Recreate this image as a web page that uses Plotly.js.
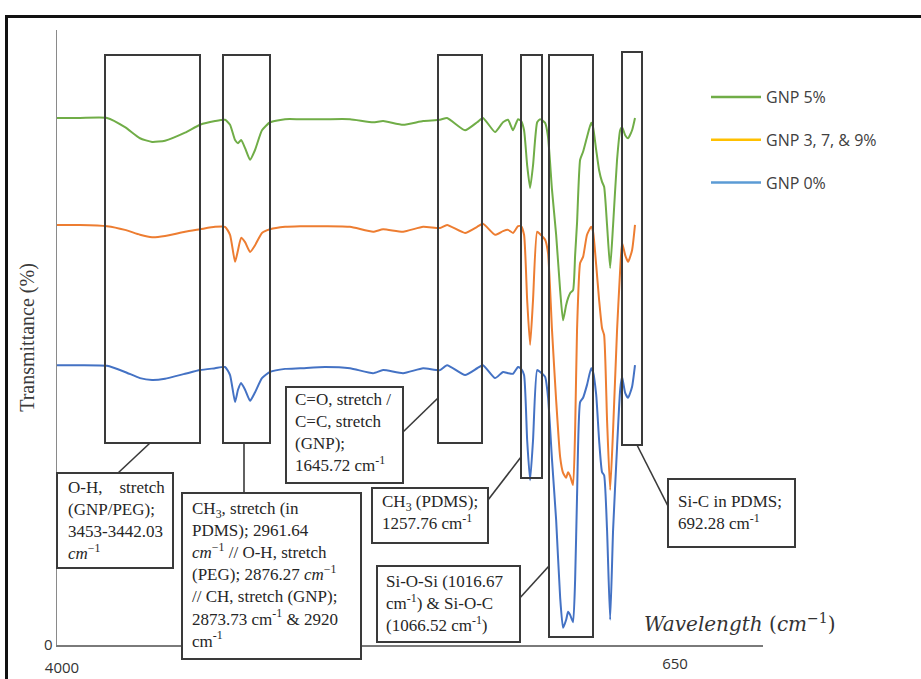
<!DOCTYPE html>
<html><head><meta charset="utf-8">
<script src="https://cdn.plot.ly/plotly-3.0.1.min.js"></script>
<style>
html,body{margin:0;padding:0;background:#fff;}
#wrap{position:relative;width:921px;height:679px;overflow:hidden;}
#chart{width:921px;height:679px;}
#frame{position:absolute;left:5px;top:15px;width:940px;height:700px;border-top:3px solid #111;border-left:3px solid #111;pointer-events:none;}
</style></head><body>
<div id="wrap"><div id="chart"></div><div id="frame"></div></div>
<script>
// ---- data (wavenumber in cm^-1, transmittance in %, curves offset as in the figure) ----
const wavenumber = [4000,3867,3710,3606,3519,3449,3374,3258,3171,3084,3026,2997,2968,2951,2933,2910,2881,2852,2812,2765,2678,2591,2446,2302,2168,2110,1994,1878,1780,1739,1635,1565,1531,1461,1415,1386,1357,1328,1310,1293,1275,1258,1241,1217,1200,1171,1154,1131,1107,1084,1067,1049,1038,1026,1009,997,986,968,951,928,904,893,875,858,841,829,812,794,777,754,736,725,707,690,667,650];
const gnp5 = [85.7,85.7,85.7,84.2,82.4,81.8,82.0,83.3,84.6,85.2,85.4,84.6,82.1,81.6,82.1,80.8,78.9,80.5,83.7,85.0,85.5,85.5,85.5,85.5,85.0,85.2,84.6,85.2,85.4,85.7,83.7,85.0,85.7,83.4,85.0,85.4,83.7,85.5,85.2,83.7,78.0,74.3,78.0,85.0,85.5,84.9,82.6,74.0,66.7,57.7,52.8,55.3,56.4,57.2,57.7,63.4,68.6,78.9,80.2,82.6,84.9,84.2,80.5,77.2,75.3,74.5,68.3,61.3,68.3,78.9,83.7,84.2,82.9,82.4,83.7,85.7];
const gnp379 = [68.3,68.3,68.1,67.5,66.7,66.3,66.5,67.2,67.6,68.0,68.0,66.7,62.3,64.2,66.2,65.5,63.9,65.0,67.0,67.6,68.0,68.1,68.1,68.0,67.2,67.6,67.2,68.0,67.8,68.3,67.0,68.0,68.5,66.7,67.3,67.5,67.0,68.1,68.1,66.7,56.1,48.8,56.1,67.2,66.8,65.9,63.7,51.2,39.8,30.6,28.0,27.2,28.1,27.5,26.0,35.0,51.2,62.1,63.1,66.7,68.0,67.2,61.8,56.1,51.5,50.4,36.6,25.2,35.0,51.2,61.0,65.4,63.4,62.3,64.2,68.3];
const gnp0 = [45.5,45.5,45.4,44.4,43.4,43.1,43.3,44.1,44.7,45.0,45.2,43.9,39.5,41.5,42.6,41.5,39.7,41.1,43.4,44.4,44.9,45.0,45.2,45.0,44.2,44.7,44.2,45.0,44.7,45.5,43.9,45.0,45.5,43.4,44.4,44.2,44.1,45.2,44.9,43.9,33.3,26.8,33.3,44.7,44.4,43.6,40.3,30.1,20.3,7.8,2.8,4.1,5.4,4.9,3.7,10.6,24.1,39.5,40.2,42.3,45.0,44.4,40.7,33.3,28.1,27.6,18.7,4.1,18.7,32.2,41.5,43.6,41.0,40.2,42.0,45.5];
const seriesNames = ["GNP 5%", "GNP 3, 7, &amp; 9%", "GNP 0%"];
const lineColors = ["#70AD47", "#ED7D31", "#4472C4"];
const legendColors = ["#70AD47", "#FFC000", "#5B9BD5"];
const xTickValues = [4000, 650];
const xTickText = ["4000", "650"];
const yTickValues = [0];
const yTickText = ["0"];
const bandLabels = [
 "O-H,\u00a0\u00a0\u00a0 stretch<br>(GNP/PEG);<br>3453-3442.03<br><i>cm</i><sup>\u22121</sup>",
 "CH<sub>3</sub>, stretch (in<br>PDMS); 2961.64<br><i>cm</i><sup>\u22121</sup> // O-H, stretch<br>(PEG); 2876.27 <i>cm</i><sup>\u22121</sup><br>// CH, stretch (GNP);<br>2873.73 cm<sup>-1</sup> &amp; 2920<br>cm<sup>-1</sup>",
 "C=O, stretch /<br>C=C, stretch<br>(GNP);<br>1645.72 cm<sup>-1</sup>",
 "CH<sub>3</sub> (PDMS);<br>1257.76 cm<sup>-1</sup>",
 "Si-O-Si (1016.67<br>cm<sup>-1</sup>) &amp; Si-O-C<br>(1066.52 cm<sup>-1</sup>)",
 "Si-C in PDMS;<br>692.28 cm<sup>-1</sup>"
];

// ---- layout geometry (pixels) ----
const W=921, H=679, ML=57, MR=158, MT=30, MB=34;
const PW=W-ML-MR, PH=H-MT-MB;
const fx = p => (p-ML)/PW;
const fy = p => (H-MB-p)/PH;

const bandBoxes = [[105,55,200,443],[223,55,270,443],[438,55,482,443],[521,55,542,478],[549,55,593,637],[622,52,642,445]];
const labelBoxes = [[57,473,173,568],[182,493,361,659],[286,387,403,483],[372,488,488,543],[377,566,520,642],[668,479,795,547]];
const labelText = [[66,476],[190,497],[293,388],[380,490],[384,570],[676,490]];
const connectors = [[150,443,118,473],[244,443,244,493],[403,432,438,398],[488,500,521,457],[518,600,549,566],[637,445,670,510]];

const shapes = [];
bandBoxes.forEach(b => shapes.push({type:'rect', xref:'paper', yref:'paper', x0:fx(b[0]), x1:fx(b[2]), y0:fy(b[1]), y1:fy(b[3]), line:{color:'#3a3a3a', width:2}, layer:'above'}));
connectors.forEach(c => shapes.push({type:'line', xref:'paper', yref:'paper', x0:fx(c[0]), y0:fy(c[1]), x1:fx(c[2]), y1:fy(c[3]), line:{color:'#3a3a3a', width:1.6}, layer:'above'}));
labelBoxes.forEach(b => shapes.push({type:'rect', xref:'paper', yref:'paper', x0:fx(b[0]), x1:fx(b[2]), y0:fy(b[1]), y1:fy(b[3]), line:{color:'#3a3a3a', width:2}, fillcolor:'#ffffff', layer:'above'}));

const annotations = bandLabels.map((t,i) => ({
  xref:'paper', yref:'paper', x:fx(labelText[i][0]), y:fy(labelText[i][1]), xanchor:'left', yanchor:'top', align:'left',
  text:t, showarrow:false, font:{family:'Liberation Serif, Times New Roman, serif', size:17, color:'#262626'}
}));
annotations.push({xref:'paper', yref:'paper', x:fx(740), y:fy(623), xanchor:'center', yanchor:'middle', showarrow:false,
  text:'<i>Wavelength</i> (<i>cm</i><sup>\u22121</sup>)', font:{family:'DejaVu Serif, serif', size:20, color:'#333333'}});

const traces = [gnp5, gnp379, gnp0].map((ys,i) => ({
  type:'scatter', mode:'lines', x:wavenumber, y:ys, name:seriesNames[i], showlegend:false,
  line:{color:lineColors[i], width:2, shape:'spline', smoothing:0.5}
}));
seriesNames.forEach((n,i) => traces.push({type:'scatter', mode:'lines', x:[null], y:[null], xaxis:'x2', name:n,
  legendgroup:'g'+i, line:{color:legendColors[i], width:2.5}}));

const xRange = [4000, 4000 - PW*(4000-650)/578];
const layout = {
  width:W, height:H, margin:{l:ML, r:MR, t:MT, b:MB}, paper_bgcolor:'#fff', plot_bgcolor:'#fff',
  xaxis:{range:xRange, showgrid:false, zeroline:false, showline:true, linecolor:'#7a7a7a', linewidth:2, ticks:'',
    tickvals:[xTickValues[0]], ticktext:[xTickText[0]], ticklabelshift:-5, ticklabelstandoff:8,
    tickfont:{family:'Open Sans', size:15, color:'#333'}},
  xaxis2:{range:xRange, overlaying:'x', anchor:'y', side:'bottom', showgrid:false, zeroline:false, showline:false, ticks:'',
    tickvals:[xTickValues[1]], ticktext:[xTickText[1]], ticklabelshift:-40, ticklabelstandoff:8,
    tickfont:{family:'Open Sans', size:15, color:'#333'}},
  yaxis:{range:[0,100], showgrid:false, zeroline:false, showline:true, linecolor:'#8a8a8a', linewidth:1.5, ticks:'',
    tickvals:yTickValues, ticktext:yTickText, tickfont:{family:'Open Sans', size:15, color:'#333'},
    title:{text:'Transmittance (%)', font:{family:'Liberation Serif, Times New Roman, serif', size:20, color:'#3a3a3a'}, standoff:4}},
  legend:{x:fx(706), xanchor:'left', y:fy(80), yanchor:'top', bgcolor:'rgba(0,0,0,0)', tracegroupgap:19, itemwidth:50,
    font:{family:'Open Sans', size:16, color:'#404040'}},
  shapes:shapes, annotations:annotations
};
Plotly.newPlot('chart', traces, layout, {displayModeBar:false, staticPlot:true});
</script>
</body></html>
